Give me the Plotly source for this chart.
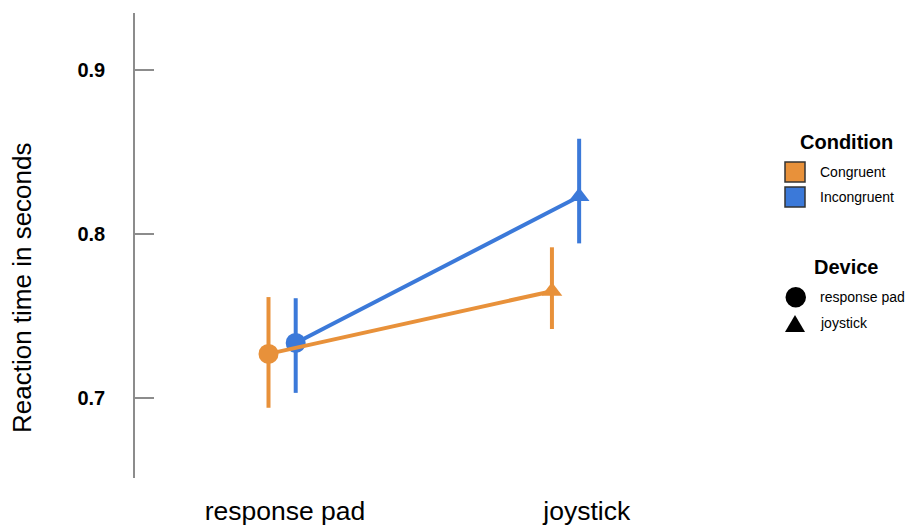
import plotly.graph_objects as go

# Mean reaction time (s) per device and condition, with asymmetric error bars
devices = ["response pad", "joystick"]
conditions = ["Congruent", "Incongruent"]
congruent_rt = [0.7268, 0.7651]
congruent_hi = [0.7615, 0.7919]
congruent_lo = [0.6939, 0.7420]
incongruent_rt = [0.7335, 0.8229]
incongruent_hi = [0.7608, 0.8582]
incongruent_lo = [0.7030, 0.7943]
y_ticks = [0.7, 0.8, 0.9]

ORANGE = "#E8913A"
BLUE = "#3B79D9"
FONT = "Liberation Sans, Arial, sans-serif"

W, H = 906, 529
ML, MR, MT, MB = 135, 186, 13, 51
PW, PH = W - ML - MR, H - MT - MB


def px(x):
    return (x - ML) / PW


def py(y):
    return (H - MB - y) / PH


dodge = 0.048
symbols = ["circle", "triangle-up"]
sizes = [20, 18]

fig = go.Figure()

series = [
    ("Incongruent", BLUE, incongruent_rt, incongruent_hi, incongruent_lo, +dodge),
    ("Congruent", ORANGE, congruent_rt, congruent_hi, congruent_lo, -dodge),
]
for name, color, rt, hi, lo, off in series:
    xs = [i + off for i in range(len(devices))]
    fig.add_trace(go.Scatter(
        x=xs, y=rt, name=name, mode="lines+markers",
        line=dict(color=color, width=4),
        marker=dict(color=color, symbol=symbols, size=sizes, opacity=1,
                    line=dict(width=0)),
        error_y=dict(type="data", symmetric=False,
                     array=[h - m for h, m in zip(hi, rt)],
                     arrayminus=[m - l for m, l in zip(rt, lo)],
                     color=color, thickness=4, width=0),
        showlegend=False,
    ))

fig.update_layout(
    width=W, height=H,
    margin=dict(l=ML, r=MR, t=MT, b=MB, autoexpand=False),
    paper_bgcolor="white", plot_bgcolor="white",
    font=dict(family=FONT, color="black"),
    showlegend=False,
)
fig.update_xaxes(
    range=[-0.519, 1.545], tickvals=[0.01, 1.075], ticktext=devices,
    showline=False, showgrid=False, zeroline=False, ticks="",
    tickfont=dict(size=26.5, family=FONT, color="black"),
    ticklabelstandoff=14, automargin=False,
)
fig.update_yaxes(
    range=[0.651, 0.935], tickvals=y_ticks, ticktext=[f"{v:.1f}" for v in y_ticks],
    showline=True, linecolor="#8c8c8c", linewidth=1.5,
    ticks="inside", ticklen=19, tickwidth=1.5, tickcolor="#8c8c8c",
    showgrid=False, zeroline=False,
    tickfont=dict(size=20, family=FONT, color="black", weight="bold"),
    ticklabelstandoff=24, automargin=False,
)

# y-axis title
fig.add_annotation(
    x=px(22), y=py(288), xref="paper", yref="paper",
    text="Reaction time in seconds", textangle=-90, showarrow=False,
    font=dict(size=26, family=FONT, color="black"),
    xanchor="center", yanchor="middle",
)

# Legend: Condition
fig.add_annotation(x=px(847), y=py(142), xref="paper", yref="paper",
                   text="<b>Condition</b>", showarrow=False,
                   font=dict(size=20, family=FONT, color="black"),
                   xanchor="center", yanchor="middle")
for i, (label, color) in enumerate(zip(conditions, [ORANGE, BLUE])):
    yc = 172 + 25 * i
    fig.add_shape(type="rect", xref="paper", yref="paper",
                  x0=px(785), x1=px(805), y0=py(yc - 10), y1=py(yc + 10),
                  fillcolor=color, line=dict(color="#333333", width=1.5))
    fig.add_annotation(x=px(818), y=py(yc), xref="paper", yref="paper",
                       text=label, showarrow=False,
                       font=dict(size=14, family=FONT, color="black"),
                       xanchor="left", yanchor="middle")

# Legend: Device
fig.add_annotation(x=px(847), y=py(267), xref="paper", yref="paper",
                   text="<b>Device</b>", showarrow=False,
                   font=dict(size=20, family=FONT, color="black"),
                   xanchor="center", yanchor="middle")
fig.add_shape(type="circle", xref="paper", yref="paper",
              x0=px(785.5), x1=px(806), y0=py(287), y1=py(307.5),
              fillcolor="black", line=dict(color="black", width=0))
tri = f"M {px(785)} {py(332)} L {px(805)} {py(332)} L {px(795)} {py(315)} Z"
fig.add_shape(type="path", xref="paper", yref="paper", path=tri,
              fillcolor="black", line=dict(color="black", width=0))
for label, yc in zip(devices, [297, 323]):
    fig.add_annotation(x=px(818), y=py(yc), xref="paper", yref="paper",
                       text=label, showarrow=False,
                       font=dict(size=14, family=FONT, color="black"),
                       xanchor="left", yanchor="middle")

fig.write_html("out.html")
